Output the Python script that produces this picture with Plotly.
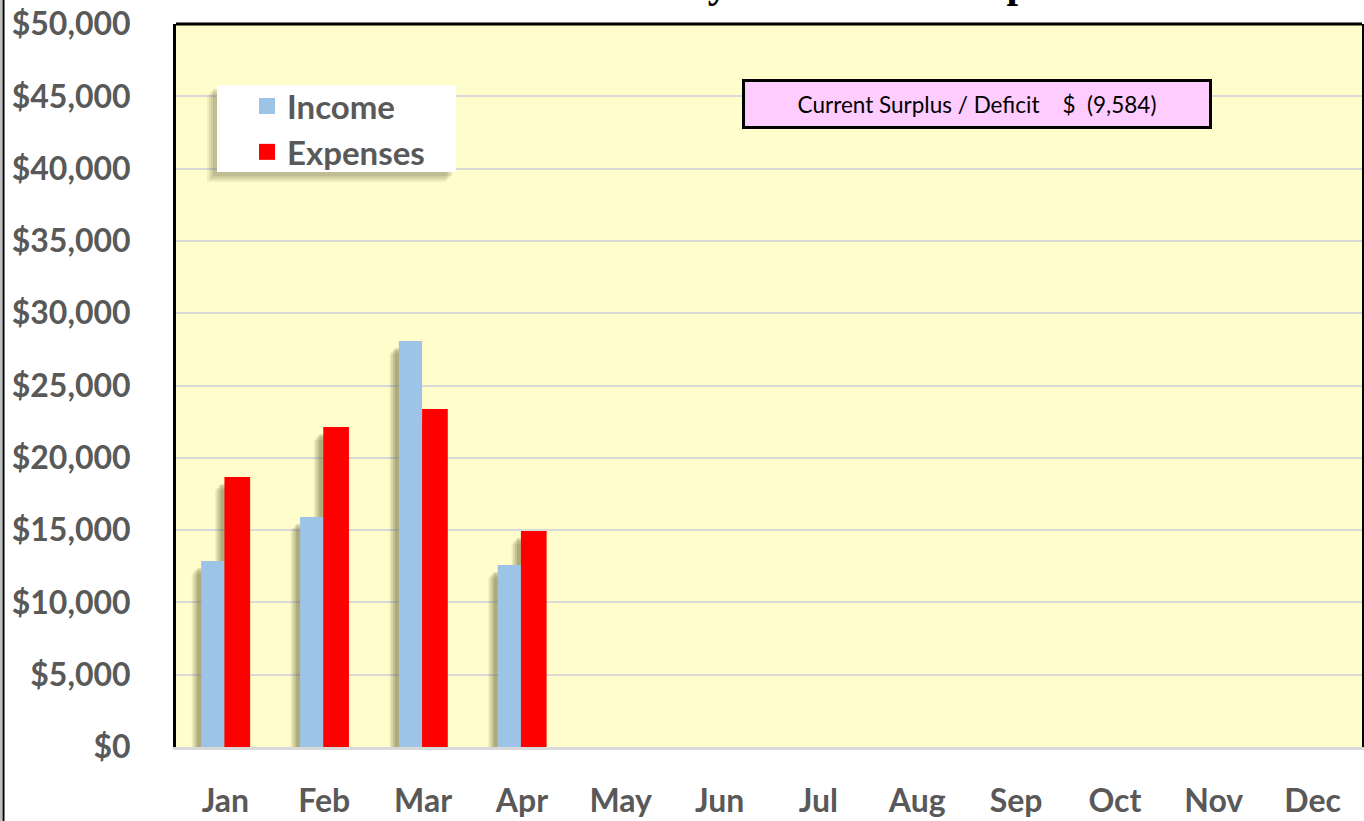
import plotly.graph_objects as go

months = ["Jan", "Feb", "Mar", "Apr", "May", "Jun", "Jul", "Aug", "Sep", "Oct", "Nov", "Dec"]
income = [12860, 15900, 28080, 12590, None, None, None, None, None, None, None, None]
expenses = [18670, 22130, 23380, 14940, None, None, None, None, None, None, None, None]
surplus_text = "(9,584)"
title_text = "2014 Monthly Income and Expenses"

INC_COLOR = "#9DC3E6"
EXP_COLOR = "#FF0000"
TXT = "#595959"

fig = go.Figure()

# soft drop shadows (drawn first, behind the bars)
for dx, base, alpha in [(-0.095, -900, 0.10), (-0.08, -750, 0.14), (-0.06, -600, 0.18), (-0.04, -500, 0.22)]:
    fig.add_trace(go.Bar(x=months, y=income, base=base, offset=-0.245 + dx, width=0.235,
                         marker=dict(color=f"rgba(100,95,50,{alpha})", line=dict(width=0)),
                         showlegend=False, hoverinfo="skip"))
    fig.add_trace(go.Bar(x=months, y=expenses, base=base, offset=-0.01 + dx, width=0.26,
                         marker=dict(color=f"rgba(100,95,50,{alpha})", line=dict(width=0)),
                         showlegend=False, hoverinfo="skip"))

fig.add_trace(go.Bar(x=months, y=income, name="Income", offset=-0.245, width=0.235,
                     marker=dict(color=INC_COLOR, line=dict(width=0)), showlegend=False))
fig.add_trace(go.Bar(x=months, y=expenses, name="Expenses", offset=-0.01, width=0.26,
                     marker=dict(color=EXP_COLOR, line=dict(width=0)), showlegend=False))

# legend entries with large square swatches
fig.add_trace(go.Scatter(x=[None], y=[None], mode="markers", name="Income",
                         marker=dict(symbol="square", size=22, color=INC_COLOR)))
fig.add_trace(go.Scatter(x=[None], y=[None], mode="markers", name="Expenses",
                         marker=dict(symbol="square", size=22, color=EXP_COLOR)))

L, R, T, B = 176, 2, 24, 74
W, H = 1364, 821
pw, ph = W - L - R, H - T - B

def px(x):
    return (x - L) / pw

def py(y):
    return (H - B - y) / ph

fig.update_layout(
    width=W, height=H,
    margin=dict(l=L, r=R, t=T, b=B, pad=0, autoexpand=False),
    paper_bgcolor="white",
    plot_bgcolor="#FFFDCB",
    barmode="overlay",
    font=dict(family="Lato", color=TXT),
    legend=dict(
        x=px(247), y=py(78), xanchor="left", yanchor="top",
        bgcolor="rgba(0,0,0,0)", borderwidth=0,
        font=dict(family="Lato", size=33, color=TXT, weight="bold"),
        itemsizing="trace", tracegroupgap=0,
    ),
    showlegend=True,
)

fig.update_xaxes(
    type="category", categoryorder="array", categoryarray=months,
    range=[-0.5, 11.5], automargin=False,
    showgrid=False, zeroline=False,
    showline=True, linecolor="#D9D9D9", linewidth=3,
    ticks="", ticklabelstandoff=24,
    tickfont=dict(family="Lato", size=32, color=TXT, weight="bold"),
)
fig.update_yaxes(
    range=[0, 50000], dtick=5000, tickprefix="$", tickformat=",",
    automargin=False,
    showgrid=True, gridcolor="#D9D9D9", gridwidth=2,
    zeroline=False,
    showline=True, linecolor="black", linewidth=3, mirror=True,
    ticks="", ticklabelstandoff=36,
    tickfont=dict(family="Lato", size=32, color=TXT, weight="bold"),
)

shapes = [
    # top frame line of plot area
    dict(type="line", xref="paper", yref="paper", x0=0, x1=1, y0=1, y1=1,
         line=dict(color="black", width=3)),
]
# legend soft shadow
for off, a in [(10, 0.10), (8, 0.12), (6, 0.14), (4, 0.16)]:
    shapes.append(dict(type="rect", xref="paper", yref="paper",
                       x0=px(217 - off), x1=px(456 - off), y0=py(172 + off), y1=py(85 + off),
                       fillcolor=f"rgba(110,105,70,{a})", line=dict(width=0), layer="above"))
shapes += [
    dict(type="rect", xref="paper", yref="paper", x0=px(217), x1=px(456), y0=py(172), y1=py(85),
         fillcolor="white", line=dict(width=0), layer="above"),
    # page left border
    dict(type="line", xref="paper", yref="paper", x0=px(1), x1=px(1), y0=py(0), y1=py(H),
         line=dict(color="#BFBFBF", width=2)),
    dict(type="line", xref="paper", yref="paper", x0=px(3.5), x1=px(3.5), y0=py(0), y1=py(H),
         line=dict(color="black", width=2)),
]
fig.update_layout(shapes=shapes)

nb = "\u00a0"
fig.add_annotation(
    xref="paper", yref="paper", x=px(977), y=py(104), xanchor="center", yanchor="middle",
    text=f"Current Surplus / Deficit{nb*4}${nb*2}{surplus_text}",
    showarrow=False, font=dict(family="Lato", size=22.5, color="black"),
    bgcolor="#FFCCFF", bordercolor="black", borderwidth=3,
    width=462, height=42, align="center",
)
fig.add_annotation(
    xref="paper", yref="paper", x=px(802), y=py(8), xanchor="center", yanchor="bottom",
    text=f"<b>{title_text}</b>", showarrow=False,
    font=dict(family="Liberation Serif", size=41.5, color="black"),
)

fig.write_html("out.html")
